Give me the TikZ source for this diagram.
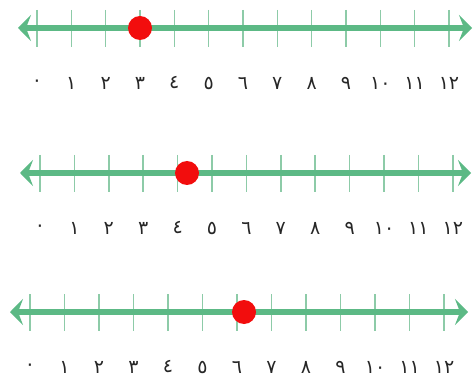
\documentclass[tikz,border=0pt]{standalone}
\usepackage{fontspec}
\usepackage{tikz}
\usetikzlibrary{arrows.meta}
\newfontfamily\numfont{DejaVu Sans}
\definecolor{Axis}{HTML}{5CB985}
\definecolor{Tick}{HTML}{8DCBA8}
\definecolor{Dot}{HTML}{F20D0D}

\begin{document}
\begin{tikzpicture}[
  x=1pt,y=-1pt,
  axis/.style={{Stealth[length=13pt,width=26pt,inset=5pt]}-{Stealth[length=13pt,width=26pt,inset=5pt]},line width=6pt,draw=Axis},
  tick/.style={line width=1.6pt,draw=Tick},
  dot/.style={circle,fill=Dot,minimum width=24pt,minimum height=22pt,inner sep=0pt},
  num/.style={font=\numfont\fontsize{19}{19}\selectfont,text=black!85,inner sep=0pt}
]
\useasboundingbox (0,0) rectangle (473,387);
% row / line y / tick 0 / step / left tip / right tip / dot x
\foreach \row/\y/\xo/\dx/\xl/\xr/\xd in {1/28/37/34.33/18/472/140, 2/173/40/34.4/20/471/187, 3/312/30/34.5/10/468/244}{
  \coordinate (l\row) at (\xl,\y);
  \coordinate (r\row) at (\xr,\y);
  \foreach \i/\lab in {0/٠,1/١,2/٢,3/٣,4/٤,5/٥,6/٦,7/٧,8/٨,9/٩,10/١٠,11/١١,12/١٢}{
    \coordinate (t\row-\i) at (\xo+\i*\dx,\y);
    \draw[tick] ([yshift=18pt]t\row-\i) -- ([yshift=-19pt]t\row-\i);
    \node[num] (n\row-\i) at ([yshift=-55pt]t\row-\i) {\lab};
  }
  \draw[axis] (l\row) -- (r\row);
  \node[dot] (dot\row) at (\xd,\y) {};
}
\end{tikzpicture}
\end{document}
